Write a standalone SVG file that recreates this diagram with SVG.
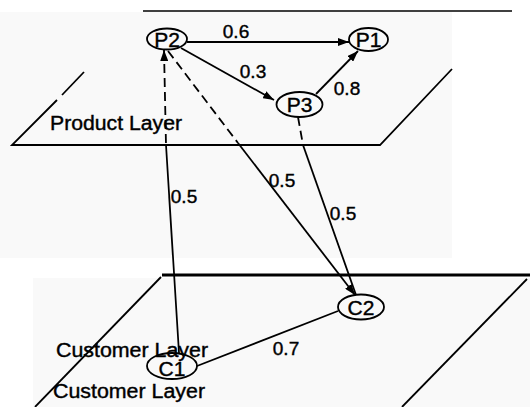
<svg xmlns="http://www.w3.org/2000/svg" width="530" height="407" viewBox="0 0 530 407">
<style>
.bg{fill:#f9f9f9;stroke:none}
.edge{fill:none;stroke:#000;stroke-width:1.8}
.dash{stroke-dasharray:9 5}
.plane{fill:none;stroke:#000;stroke-width:1.8}
.node{fill:none;stroke:#000;stroke-width:1.8}
.nt{font-family:"Liberation Sans",Arial,sans-serif;font-size:21px;fill:#000;stroke:#000;stroke-width:0.4;text-anchor:middle}
.lbl{font-family:"Liberation Sans",Arial,sans-serif;font-size:19px;fill:#000;stroke:#000;stroke-width:0.4;text-anchor:middle}
.layer{font-family:"Liberation Sans",Arial,sans-serif;font-size:20px;fill:#000;stroke:#000;stroke-width:0.4}
</style>
<defs>
<marker id="ah" markerUnits="userSpaceOnUse" markerWidth="11" markerHeight="8" refX="11" refY="4" orient="auto-start-reverse">
<path d="M0,0 L11,4 L0,8 z" fill="#000"/>
</marker>
</defs>
<rect width="530" height="407" fill="#fff"/>
<g id="background">
<rect class="bg" x="0" y="12" width="452" height="246"/>
<rect class="bg" x="33" y="278" width="497" height="129"/>
<line x1="143" y1="11" x2="512" y2="11" stroke="#000" stroke-width="1.6"/>
<line x1="162" y1="275" x2="530" y2="275" stroke="#000" stroke-width="3.2"/>
</g>
<g id="product-layer">
<path class="plane" d="M57,100 L12,145 L380,145 L452,69"/>
<line class="plane" x1="62" y1="95" x2="84" y2="72"/>
<text class="layer" x="50" y="130" textLength="132" lengthAdjust="spacingAndGlyphs">Product Layer</text>
</g>
<g id="customer-layer">
<line class="plane" x1="35" y1="407" x2="161" y2="277"/>
<line class="plane" x1="402" y1="407" x2="527" y2="279"/>
<text class="layer" x="53" y="398" textLength="152" lengthAdjust="spacingAndGlyphs">Customer Layer</text>
</g>
<g id="connectors">
<line class="edge" x1="187" y1="42" x2="349" y2="42" marker-end="url(#ah)"/>
<line class="edge" x1="181" y1="48" x2="274" y2="100" marker-end="url(#ah)"/>
<line class="edge" x1="316" y1="94" x2="358" y2="51" marker-end="url(#ah)"/>
<line class="edge dash" x1="164" y1="50" x2="166" y2="145" marker-start="url(#ah)"/>
<line class="edge" x1="166" y1="145" x2="179" y2="353"/>
<line class="edge dash" x1="168" y1="51" x2="238" y2="143"/>
<line class="edge" x1="238" y1="143" x2="355" y2="295" marker-end="url(#ah)"/>
<line class="edge dash" x1="298" y1="117" x2="303" y2="145"/>
<line class="edge" x1="303" y1="145" x2="356" y2="295"/>
<line class="edge" x1="197" y1="366" x2="338" y2="311"/>
<text class="lbl" x="236" y="38">0.6</text>
<text class="lbl" x="253" y="78">0.3</text>
<text class="lbl" x="347" y="95">0.8</text>
<text class="lbl" x="184" y="203">0.5</text>
<text class="lbl" x="282" y="187">0.5</text>
<text class="lbl" x="343" y="220">0.5</text>
<text class="lbl" x="286" y="355">0.7</text>
</g>
<g id="P2">
<ellipse class="node" cx="167" cy="39" rx="20" ry="10.5"/>
<text class="nt" x="167" y="46.5">P2</text>
</g>
<g id="P1">
<ellipse class="node" cx="368.5" cy="39.5" rx="19.5" ry="11.5"/>
<text class="nt" x="368.5" y="47">P1</text>
</g>
<g id="P3">
<ellipse class="node" cx="299.5" cy="104.5" rx="23" ry="12.5"/>
<text class="nt" x="299.5" y="112">P3</text>
</g>
<g id="C2">
<ellipse class="node" cx="361" cy="307" rx="23" ry="12.5"/>
<text class="nt" x="361" y="314.5">C2</text>
</g>
<g id="C1">
<ellipse class="node" cx="172" cy="366" rx="25" ry="13"/>
<text class="nt" x="172" y="376">C1</text>
</g>
<g id="customer-label-top">
<text class="layer" x="56" y="357" textLength="152" lengthAdjust="spacingAndGlyphs">Customer Layer</text>
</g>
</svg>
